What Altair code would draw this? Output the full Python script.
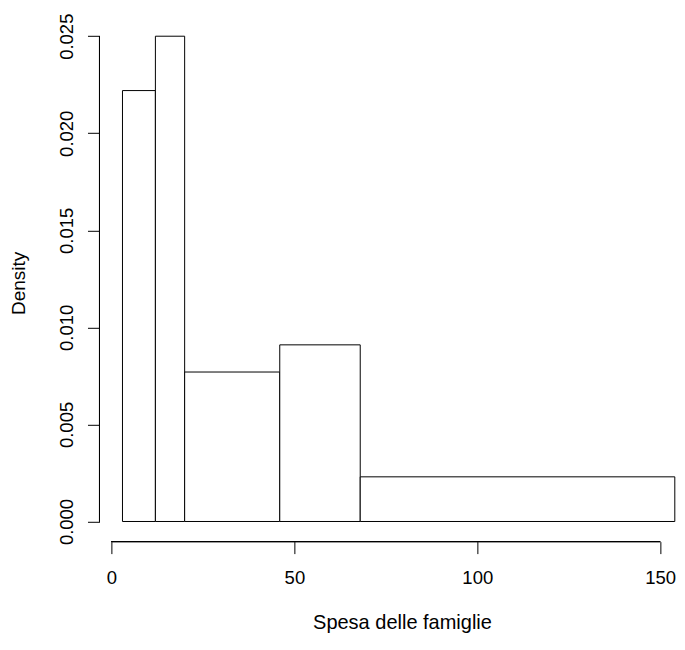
import altair as alt
import pandas as pd

# Histogram bins (unequal widths) and densities
lower = [3, 12, 20, 46, 68]
upper = [12, 20, 46, 68, 154]
density = [0.0222, 0.0250, 0.0077, 0.0091, 0.0023]

x_ticks = [0, 50, 100, 150]
y_ticks = [0.000, 0.005, 0.010, 0.015, 0.020, 0.025]

df = pd.DataFrame({"lower": lower, "upper": upper, "density": density})

W = 575.9
H = 524.1
FONT = "Liberation Sans"
Y_OFF = 0.88
X_OFF = 0.7

xscale = alt.Scale(domain=[-3.04, 154.4], nice=False, zero=False)
yscale = alt.Scale(domain=[-0.001, 0.026], nice=False, zero=False)

bars = alt.Chart(df).mark_rect(fill="white", stroke="black", strokeWidth=1).encode(
    x=alt.X(
        "lower:Q",
        scale=xscale,
        axis=alt.Axis(
            values=x_ticks,
            domain=False,
            grid=False,
            ticks=True,
            tickSize=12,
            tickColor="black",
            tickWidth=1,
            offset=X_OFF,
            labelFont=FONT,
            labelFontSize=18.5,
            labelColor="black",
            labelBaseline="middle",
            labelPadding=23.6,
            labelFlush=False,
            labelOverlap=False,
            title="Spesa delle famiglie",
            titleFont=FONT,
            titleFontSize=20,
            titleFontWeight="normal",
            titleColor="black",
            titleX=301.6,
            titleY=87.4,
            titleBaseline="alphabetic",
            titleAlign="center",
        ),
    ),
    x2="upper:Q",
    y=alt.Y(
        "density:Q",
        scale=yscale,
        axis=alt.Axis(
            values=y_ticks,
            format=".3f",
            domain=False,
            grid=False,
            tickSize=12,
            tickColor="black",
            tickWidth=1,
            offset=Y_OFF,
            labelFont=FONT,
            labelFontSize=18.5,
            labelColor="black",
            labelAngle=270,
            labelAlign="center",
            labelBaseline="middle",
            labelPadding=20.8,
            labelFlush=False,
            labelOverlap=False,
            title="Density",
            titleFont=FONT,
            titleFontSize=19,
            titleFontWeight="normal",
            titleColor="black",
            titleAngle=270,
            titleX=-80.5,
            titleY=266,
            titleAlign="center",
            titleBaseline="middle",
        ),
    ),
    y2=alt.datum(0),
)

x_line = alt.Chart(df).mark_rule(color="black", strokeWidth=1, clip=False).encode(
    x=alt.datum(x_ticks[0]),
    x2=alt.datum(x_ticks[-1]),
    y=alt.value(H + X_OFF),
)

y_line = alt.Chart(df).mark_rule(color="black", strokeWidth=1, clip=False).encode(
    x=alt.value(-Y_OFF),
    y=alt.datum(y_ticks[0]),
    y2=alt.datum(y_ticks[-1]),
)

chart = (
    alt.layer(bars, x_line, y_line)
    .properties(
        width=W,
        height=H,
        autosize=alt.AutoSizeParams(type="none"),
        padding={"left": 92.38, "top": 8.8, "right": 0, "bottom": 93.1},
        background="white",
    )
    .configure_view(stroke=None)
)

chart.save("out.html", embed_options={"renderer": "svg", "actions": False})
